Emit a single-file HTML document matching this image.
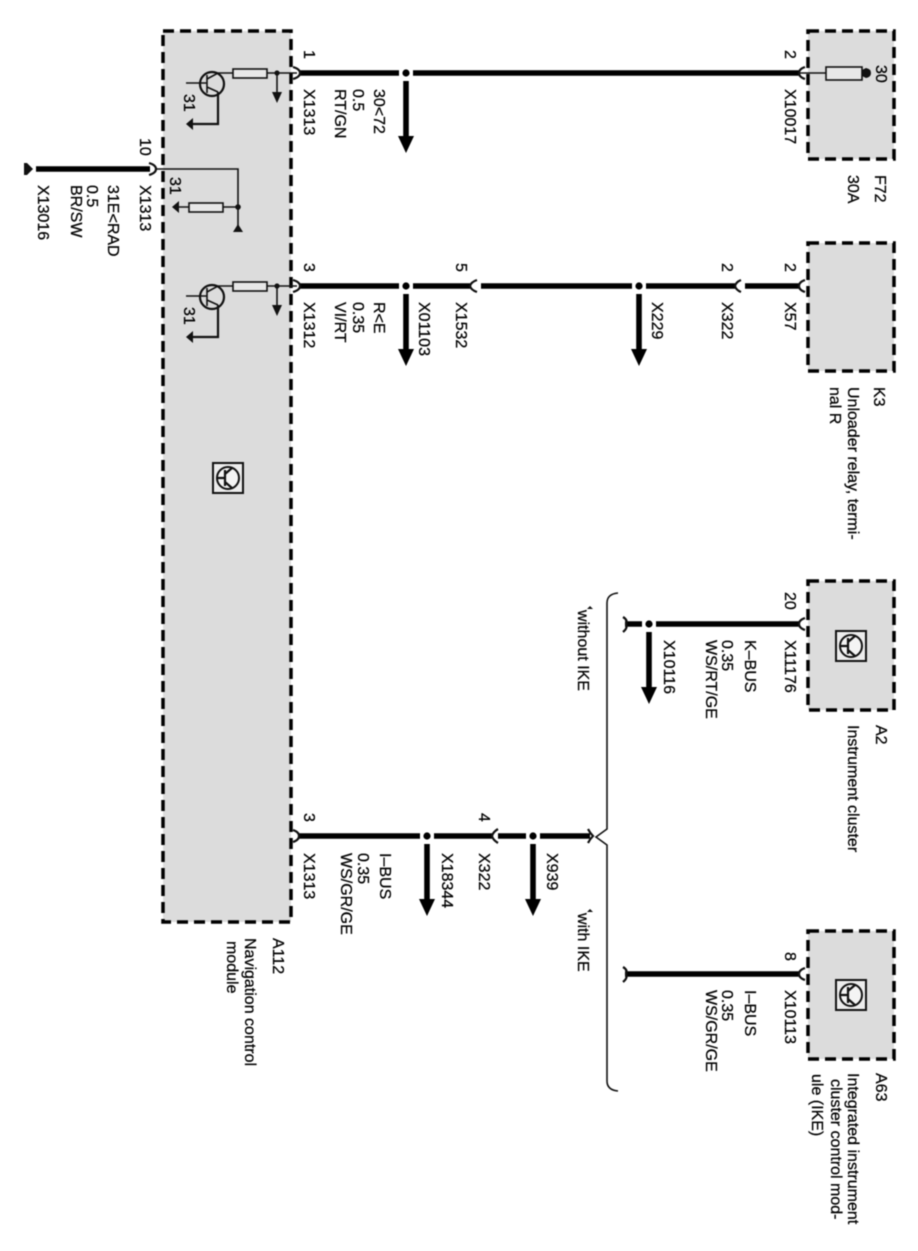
<!DOCTYPE html>
<html><head><meta charset="utf-8"><style>
html,body{margin:0;padding:0;background:#fff;width:918px;height:1251px;overflow:hidden}
svg{display:block;filter:blur(.55px)}
text{font-family:"Liberation Sans",sans-serif;font-size:16px;fill:#000;stroke:#000;stroke-width:.25}
.box{fill:#dcdcdc;stroke:#000;stroke-width:3.5;stroke-dasharray:11 6}
.w{stroke:#000;fill:none;stroke-width:5.5}
.t{stroke:#111;fill:none;stroke-width:1.6}
.m{stroke:#111;fill:none;stroke-width:2.2}
.c{stroke:#111;fill:none;stroke-width:2.2}
</style></head><body>
<svg width="918" height="1251" viewBox="0 0 918 1251" xmlns="http://www.w3.org/2000/svg">
<defs>
<g id="arrow"><rect x="-2.8" y="0" width="5.6" height="58" fill="#000"/><path d="M-8,55 H8 L0,72 Z" fill="#000"/></g>
<g id="trans">
<circle cx="212" cy="84" r="12" class="m" fill="none"/>
<path class="t" d="M186,83 H207 M207,75 V93 M207,79 L218,73 H233 M207,87 L218,92"/>
<path class="m" d="M218,92 V124 H190"/>
<path d="M186,124 L193,118 V130 Z" fill="#111"/>
<rect x="233" y="69" width="34" height="9" fill="#e8e8e8" stroke="#111" stroke-width="1.6"/>
<path class="t" d="M267,73 H297"/>
<circle cx="277" cy="73" r="2.6" fill="#111"/>
<path class="t" d="M277,73 V95"/>
<path d="M272,92 H282 L277,103 Z" fill="#111"/>
</g>
<g id="ecu">
<rect x="-15" y="-15" width="30" height="30" fill="#ececec" stroke="#111" stroke-width="2"/>
<circle cx="0" cy="0" r="11" fill="#f4f4f4" stroke="#111" stroke-width="2"/>
<path class="m" d="M-11,0 H-3 M-3,-8 V8 M-3,-4 L4,-10 M-3,4 L4,10"/>
</g>
</defs>

<rect class="box" x="163" y="31" width="128" height="891"/>
<rect class="box" x="808" y="31" width="86" height="128"/>
<rect class="box" x="808" y="243" width="86" height="128"/>
<rect class="box" x="808" y="581" width="86" height="129"/>
<rect class="box" x="808" y="931" width="86" height="128"/>

<use href="#trans"/>
<use href="#trans" y="213"/>

<path class="t" d="M155,169 H238 V228 M238,207 H175"/>
<circle cx="238" cy="207" r="2.8" fill="#111"/>
<path d="M238,224 L243,232 H233 Z" fill="#111"/>
<rect x="189" y="203" width="34" height="9" fill="#e8e8e8" stroke="#111" stroke-width="1.6"/>
<path d="M172,207 L179,201 V213 Z" fill="#111"/>

<use href="#ecu" x="228" y="478"/>
<use href="#ecu" x="851" y="646"/>
<use href="#ecu" x="851" y="995"/>

<!-- wire 1 -->
<path class="w" d="M300,73 H399 M413,73 H799"/>
<path class="c" d="M293,67 Q300,69 300,73 Q300,77 293,79"/>
<circle cx="406" cy="73" r="3.6" fill="#000"/>
<use href="#arrow" x="406" y="81"/>
<path class="c" d="M805,67 Q799,69 799,73 Q799,77 805,79"/>
<path class="t" d="M800,73 H827"/>
<rect x="826" y="67" width="36" height="13" fill="#e8e8e8" stroke="#111" stroke-width="1.6"/>
<path class="t" d="M862,73 H868"/>
<path d="M862,70 L866,68 Q871,69 871,73 Q871,77 866,78 L862,76 Z" fill="#111"/>

<!-- wire 2 -->
<path class="w" d="M300,286 H399 M413,286 H470 M481,286 H632 M646,286 H735 M745,286 H799"/>
<path class="c" d="M293,280 Q300,282 300,286 Q300,290 293,292"/>
<path class="c" d="M477,280 Q471,282 470,286 Q471,290 477,292"/>
<path class="c" d="M741,280 Q736,282 735,286 Q736,290 741,292"/>
<path class="c" d="M805,280 Q799,282 799,286 Q799,290 805,292"/>
<circle cx="406" cy="286" r="3.6" fill="#000"/>
<circle cx="639" cy="286" r="3.6" fill="#000"/>
<use href="#arrow" x="406" y="294"/>
<use href="#arrow" x="639" y="294"/>

<!-- wire 10 -->
<path class="w" d="M36,169 H150"/>
<path d="M24,163 H27 L33,169 L27,175 H24 Z" fill="#111"/>
<path class="c" d="M149,163 Q156,165 156,169 Q156,173 149,175"/>

<!-- bottom wire -->
<path class="w" d="M299,836 H420 M434,836 H492 M498,836 H526 M540,836 H590"/>
<path class="c" d="M293,830 Q299,832 299,836 Q299,840 293,842"/>
<path class="c" d="M498,829 Q493,832 492,836 Q493,840 498,843"/>
<path class="c" d="M588,829 Q590,833 593,836 Q590,839 588,843"/>
<circle cx="427" cy="836" r="3.6" fill="#000"/>
<circle cx="533" cy="836" r="3.6" fill="#000"/>
<use href="#arrow" x="427" y="844"/>
<use href="#arrow" x="533" y="844"/>

<!-- A2 wire -->
<path class="w" d="M625,624 H642 M656,624 H799"/>
<path class="c" d="M623,617 Q628,620 626,624 Q628,628 623,632"/>
<path class="c" d="M805,618 Q799,620 799,624 Q799,628 805,630"/>
<circle cx="649" cy="624" r="3.6" fill="#000"/>
<use href="#arrow" x="649" y="632"/>

<!-- A63 wire -->
<path class="w" d="M625,974 H799"/>
<path class="c" d="M623,967 Q628,970 626,974 Q628,978 623,982"/>
<path class="c" d="M805,968 Q799,970 799,974 Q799,978 805,980"/>

<!-- brace -->
<path class="t" d="M618,593 Q607,594 607,603 V829 L596,837 L607,845 V1081 Q607,1090 618,1091"/>
<path d="M590,606 L593,609 H587 Z" fill="#111"/>
<path d="M590,909 L593,912 H587 Z" fill="#111"/>

<!-- labels -->
<g>
<text x="304" y="50" transform="rotate(90 304 50)">1</text>
<text x="304" y="89" transform="rotate(90 304 89)">X1313</text>
<text x="335" y="89" transform="rotate(90 335 89)">RT/GN</text>
<text x="353" y="89" transform="rotate(90 353 89)">0.5</text>
<text x="374" y="89" transform="rotate(90 374 89)">30&lt;72</text>
<text x="785" y="50" transform="rotate(90 785 50)">2</text>
<text x="785" y="89" transform="rotate(90 785 89)">X10017</text>
<text x="876" y="65" transform="rotate(90 876 65)">30</text>
<text x="875" y="175" transform="rotate(90 875 175)">F72</text>
<text x="848" y="175" transform="rotate(90 848 175)">30A</text>

<text x="140" y="138" transform="rotate(90 140 138)">10</text>
<text x="140" y="185" transform="rotate(90 140 185)">X1313</text>
<text x="108" y="185" transform="rotate(90 108 185)">31E&lt;RAD</text>
<text x="87" y="185" transform="rotate(90 87 185)">0.5</text>
<text x="71" y="185" transform="rotate(90 71 185)">BR/SW</text>
<text x="38" y="185" transform="rotate(90 38 185)">X13016</text>

<text x="184" y="94" transform="rotate(90 184 94)">31</text>
<text x="170" y="177" transform="rotate(90 170 177)">31</text>
<text x="184" y="307" transform="rotate(90 184 307)">31</text>

<text x="304" y="263" transform="rotate(90 304 263)">3</text>
<text x="304" y="302" transform="rotate(90 304 302)">X1312</text>
<text x="335" y="302" transform="rotate(90 335 302)">VI/RT</text>
<text x="353" y="302" transform="rotate(90 353 302)">0.35</text>
<text x="374" y="302" transform="rotate(90 374 302)">R&lt;E</text>
<text x="419" y="302" transform="rotate(90 419 302)">X01103</text>
<text x="456" y="263" transform="rotate(90 456 263)">5</text>
<text x="456" y="302" transform="rotate(90 456 302)">X1532</text>
<text x="652" y="302" transform="rotate(90 652 302)">X229</text>
<text x="722" y="263" transform="rotate(90 722 263)">2</text>
<text x="722" y="302" transform="rotate(90 722 302)">X322</text>
<text x="785" y="263" transform="rotate(90 785 263)">2</text>
<text x="785" y="302" transform="rotate(90 785 302)">X57</text>
<text x="874" y="387" transform="rotate(90 874 387)">K3</text>
<text x="848" y="387" transform="rotate(90 848 387)">Unloader relay, termi-</text>
<text x="830" y="387" transform="rotate(90 830 387)">nal R</text>

<text x="578" y="610" transform="rotate(90 578 610)">without IKE</text>
<text x="785" y="592" transform="rotate(90 785 592)">20</text>
<text x="785" y="640" transform="rotate(90 785 640)">X11176</text>
<text x="745" y="640" transform="rotate(90 745 640)">K–BUS</text>
<text x="722" y="640" transform="rotate(90 722 640)">0.35</text>
<text x="706" y="640" transform="rotate(90 706 640)">WS/RT/GE</text>
<text x="664" y="640" transform="rotate(90 664 640)">X10116</text>
<text x="876" y="725" transform="rotate(90 876 725)">A2</text>
<text x="848" y="725" transform="rotate(90 848 725)">Instrument cluster</text>

<text x="304" y="813" transform="rotate(90 304 813)">3</text>
<text x="304" y="853" transform="rotate(90 304 853)">X1313</text>
<text x="341" y="853" transform="rotate(90 341 853)">WS/GR/GE</text>
<text x="358" y="853" transform="rotate(90 358 853)">0.35</text>
<text x="380" y="853" transform="rotate(90 380 853)">I–BUS</text>
<text x="442" y="853" transform="rotate(90 442 853)">X18344</text>
<text x="479" y="813" transform="rotate(90 479 813)">4</text>
<text x="479" y="853" transform="rotate(90 479 853)">X322</text>
<text x="547" y="853" transform="rotate(90 547 853)">X939</text>
<text x="578" y="913" transform="rotate(90 578 913)">with IKE</text>
<text x="273" y="938" transform="rotate(90 273 938)">A112</text>
<text x="245" y="938" transform="rotate(90 245 938)">Navigation control</text>
<text x="227" y="941" transform="rotate(90 227 941)">module</text>

<text x="785" y="952" transform="rotate(90 785 952)">8</text>
<text x="785" y="990" transform="rotate(90 785 990)">X10113</text>
<text x="745" y="990" transform="rotate(90 745 990)">I–BUS</text>
<text x="722" y="990" transform="rotate(90 722 990)">0.35</text>
<text x="706" y="990" transform="rotate(90 706 990)">WS/GR/GE</text>
<text x="876" y="1073" transform="rotate(90 876 1073)">A63</text>
<text x="848" y="1073" transform="rotate(90 848 1073)">Integrated instrument</text>
<text x="831" y="1079" transform="rotate(90 831 1079)">cluster control mod-</text>
<text x="812" y="1074" transform="rotate(90 812 1074)">ule (IKE)</text>
</g>
</svg>
</body></html>
